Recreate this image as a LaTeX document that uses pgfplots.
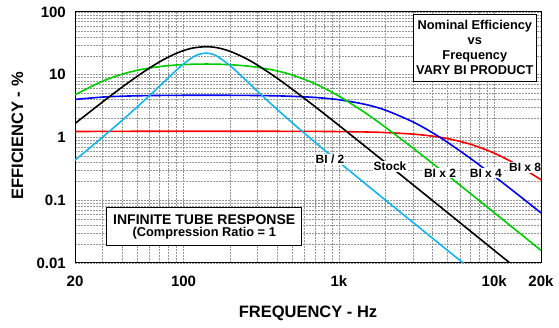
\documentclass[border=0pt]{standalone}
\usepackage{fontspec}
\setmainfont{Liberation Sans}
\usepackage{pgfplots}
\pgfplotsset{compat=1.18}
\definecolor{cred}{RGB}{255,0,0}
\definecolor{cblue}{RGB}{0,0,245}
\definecolor{cgreen}{RGB}{0,204,0}
\definecolor{ccyan}{RGB}{20,180,240}
\definecolor{gridc}{RGB}{150,150,150}
\begin{document}
\begin{tikzpicture}[x=1pt,y=1pt]
\useasboundingbox (0,0) rectangle (559,328);
\begin{axis}[
 at={(75pt,65pt)}, anchor=south west,
 scale only axis, width=466pt, height=251pt,
 xmode=log, ymode=log,
 xmin=20, xmax=20000, ymin=0.01, ymax=100,
 xtick={20,100,1000,10000,20000},
 xticklabels={20,100,1k,10k,20k},
 ytick={0.01,0.1,1,10,100},
 yticklabels={0.01,0.1,1,10,100},
 minor xtick={30,40,50,60,70,80,90,200,300,400,500,600,700,800,900,2000,3000,4000,5000,6000,7000,8000,9000},
 minor ytick={0.02,0.03,0.04,0.05,0.06,0.07,0.08,0.09,0.2,0.3,0.4,0.5,0.6,0.7,0.8,0.9,2,3,4,5,6,7,8,9,20,30,40,50,60,70,80,90},
 grid=both,
 major grid style={gridc, line width=0.5pt, dash pattern=on 2pt off 1pt},
 minor grid style={gridc, line width=0.5pt, dash pattern=on 2pt off 1pt},
 major tick length=0pt, minor tick length=0pt,
 axis line style={black, line width=1pt},
 /pgf/number format/assume math mode=true,
 tick label style={font=\bfseries\fontsize{15}{15}\selectfont, inner sep=0pt},
 xticklabel style={anchor=center, yshift=-18pt},
 yticklabel style={anchor=east, xshift=-9pt},
 xlabel={FREQUENCY - Hz}, ylabel={EFFICIENCY - \%},
 label style={font=\bfseries\fontsize{16.5}{16.5}\selectfont},
 xlabel style={at={(axis description cs:0.5,-0.199)}, anchor=center},
 ylabel style={at={(axis description cs:-0.1234,0.506)}, anchor=center},
]
% BI x 8
\addplot[cred, line width=1.6pt, smooth] coordinates {
(20,1.2437)(30,1.2517)(40,1.2545)(60,1.2564)(100,1.2574)(139,1.2575)(200,1.2573)(300,1.2566)(500,1.2542)(700,1.2505)(1000,1.2427)(1500,1.2240)(2000,1.1988)(3000,1.1321)(4000,1.0503)(5000,0.9610)(7000,0.7834)(10000,0.5625)(14000,0.3675)(20000,0.2116)};
% BI x 4
\addplot[cblue, line width=1.6pt, smooth] coordinates {
(20,4.0424)(30,4.4050)(40,4.5473)(50,4.6159)(60,4.6535)(70,4.6759)(80,4.6900)(100,4.7051)(139,4.7127)(200,4.7034)(300,4.6647)(400,4.6071)(500,4.5339)(700,4.3484)(1000,4.0000)(1500,3.3430)(2000,2.7179)(3000,1.7715)(4000,1.1909)(5000,0.8379)(7000,0.46795)(10000,0.24144)(14000,0.12633)(20000,0.062753)};
% BI x 2
\addplot[cgreen, line width=1.6pt, smooth] coordinates {
(20,4.802)(30,7.886)(40,10.164)(50,11.721)(60,12.769)(70,13.478)(80,13.962)(90,14.293)(100,14.516)(115,14.714)(139,14.810)(165,14.731)(200,14.450)(250,13.848)(300,13.115)(400,11.498)(500,9.902)(700,7.214)(1000,4.571)(1500,2.408)(2000,1.4483)(3000,0.6772)(4000,0.3880)(5000,0.25046)(7000,0.12876)(10000,0.06335)(14000,0.03238)(20000,0.015883)};
% Stock
\addplot[black, line width=1.6pt, smooth] coordinates {
(20,1.6704)(30,3.6646)(40,6.283)(50,9.355)(60,12.675)(70,16.022)(80,19.186)(90,21.982)(100,24.285)(115,26.68)(139,28.0)(165,26.91)(200,23.56)(250,18.356)(300,14.159)(400,8.809)(500,5.896)(700,3.124)(1000,1.561)(1500,0.7009)(2000,0.3957)(3000,0.1763)(4000,0.09925)(5000,0.06355)(7000,0.03243)(10000,0.01590)(14000,0.008111)(20000,0.003974)};
% BI / 2
\addplot[ccyan, line width=1.6pt, smooth] coordinates {
(20,0.4354)(30,1.0062)(40,1.8555)(50,3.0316)(60,4.589)(70,6.579)(80,9.023)(90,11.86)(100,14.91)(115,19.13)(125,21.10)(139,22.12)(152,21.39)(165,19.62)(200,13.87)(250,8.315)(300,5.410)(400,2.806)(500,1.722)(700,0.8455)(1000,0.4057)(1500,0.1783)(2000,0.09988)(3000,0.04426)(4000,0.02487)(5000,0.01591)(7000,0.008115)(10000,0.003976)};

\begin{scope}[every node/.style={fill=white, inner sep=1pt, font=\bfseries\fontsize{12}{12}\selectfont}]
\node at (axis cs:877,0.45) {BI / 2};
\node at (axis cs:2135,0.343) {Stock};
\node at (axis cs:4480,0.269) {BI x 2};
\node at (axis cs:8830,0.269) {BI x 4};
\node at (axis cs:15800,0.335) {BI x 8};
\end{scope}

\node[draw, fill=white, line width=0.9pt, align=center, minimum width=123pt, minimum height=67pt, inner sep=1pt, font=\bfseries\fontsize{12.8}{15}\selectfont] at (rel axis cs:0.858,0.8586) {Nominal Efficiency\\vs\\Frequency\\VARY BI PRODUCT};

\node[draw, fill=white, line width=0.9pt, align=center, minimum width=195pt, minimum height=38pt, inner sep=1pt, font=\bfseries] at (rel axis cs:0.2773,0.1446) {{\fontsize{14}{15}\selectfont INFINITE TUBE RESPONSE}\\{\fontsize{12.8}{15}\selectfont (Compression Ratio = 1}};
\end{axis}
\end{tikzpicture}
\end{document}
